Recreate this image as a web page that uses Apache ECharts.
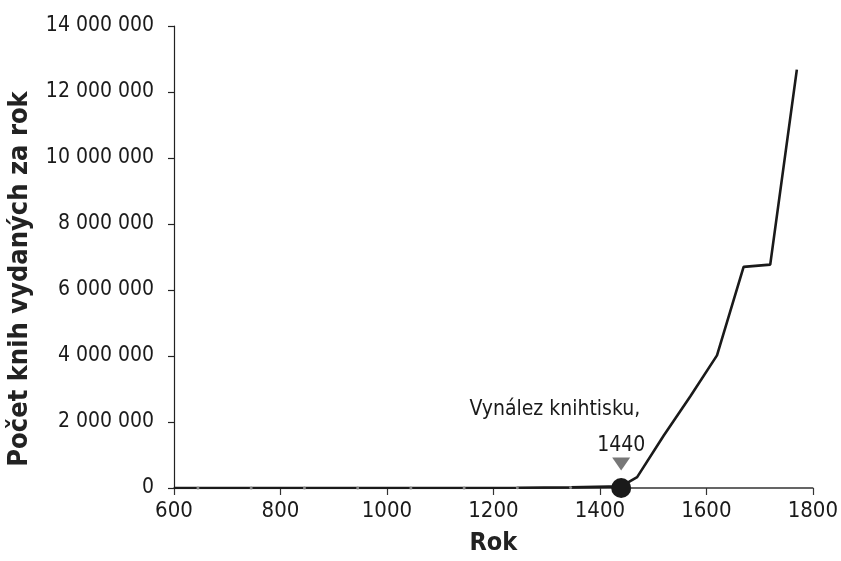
<!DOCTYPE html>
<html>
<head>
<meta charset="utf-8">
<script src="https://cdn.jsdelivr.net/npm/echarts@6/dist/echarts.min.js"></script>
<style>html,body{margin:0;padding:0;background:#fff;overflow:hidden}#c{width:100vw;height:100vh}</style>
</head>
<body>
<div id="c"></div>
<script>
// Data (books produced per year, Western Europe)
const years = [600, 645, 745, 845, 945, 1045, 1145, 1245, 1345, 1440, 1470, 1520, 1570, 1620, 1670, 1720, 1770];
const booksPerYear = [135, 135, 106, 430, 2010, 1350, 2120, 7680, 17600, 49900, 330000, 1590000, 2780000, 4020000, 6700000, 6770000, 12680000];
const dotYears = [645, 745, 845, 945, 1045, 1145, 1245, 1345];
const xTicks = [600, 800, 1000, 1200, 1400, 1600, 1800];
const yTicks = [0, 2000000, 4000000, 6000000, 8000000, 10000000, 12000000, 14000000];
const eventYear = 1440;
const eventLabel = 'Vynález knihtisku,';
const xTitle = 'Rok';
const yTitle = 'Počet knih vydaných za rok';

const FONT = "'Liberation Sans Narrow', 'DejaVu Sans Condensed', 'Arial Narrow', sans-serif";
const fmt = v => String(Math.round(v)).replace(/\B(?=(\d{3})+(?!\d))/g, ' ');

const chart = echarts.init(document.getElementById('c'), null, {renderer: 'canvas'});
chart.setOption({
  animation: false,
  backgroundColor: '#fff',
  grid: {left: 174, right: 27, top: 26, bottom: 71},
  xAxis: {
    type: 'value', min: xTicks[0], max: xTicks[xTicks.length - 1], interval: 200,
    name: xTitle, nameLocation: 'middle', nameGap: 43,
    nameTextStyle: {fontFamily: FONT, fontSize: 25, fontWeight: 'bold', color: '#222'},
    axisLine: {lineStyle: {color: '#333', width: 1.5}},
    axisTick: {length: 7, lineStyle: {color: '#333', width: 1.2}},
    axisLabel: {fontFamily: FONT, fontSize: 22, color: '#1a1a1a', margin: 12, formatter: v => String(v)},
    splitLine: {show: false}
  },
  yAxis: {
    type: 'value', min: yTicks[0], max: yTicks[yTicks.length - 1], interval: 2000000,
    axisLine: {show: true, lineStyle: {color: '#222', width: 1.2}},
    axisTick: {show: true, length: 6, lineStyle: {color: '#222', width: 1.2}},
    axisLabel: {fontFamily: FONT, fontSize: 21, color: '#1a1a1a', margin: 20, formatter: fmt},
    splitLine: {show: false}
  },
  graphic: [{
    type: 'text', x: 20, y: 279, rotation: Math.PI / 2,
    style: {text: yTitle, textAlign: 'center', textVerticalAlign: 'middle',
      font: "bold 27px " + FONT, fill: '#222'}
  }],
  series: [{
    type: 'line',
    data: years.map((y, i) => ({
      value: [y, booksPerYear[i]],
      symbol: dotYears.includes(y) ? 'circle' : 'none',
      symbolSize: 3
    })),
    lineStyle: {color: '#1a1a1a', width: 2.6},
    itemStyle: {color: '#888'},
    z: 3
  }, {
    type: 'scatter',
    data: [[eventYear, 0]],
    symbol: 'circle', symbolSize: 20,
    itemStyle: {color: '#1a1a1a', opacity: 1},
    z: 5
  }, {
    type: 'scatter',
    data: [[eventYear, 0]],
    symbol: 'triangle', symbolRotate: 180, symbolSize: [18, 13],
    symbolOffset: [0, -24],
    itemStyle: {color: '#777', opacity: 1},
    z: 4
  }, {
    type: 'scatter',
    data: [[eventYear, 0]],
    symbol: 'circle', symbolSize: 1,
    itemStyle: {color: 'rgba(0,0,0,0)', opacity: 1},
    label: {show: true, position: 'top', distance: 0, formatter: () => String(eventYear),
      offset: [0, -31], fontFamily: FONT, fontSize: 21, color: '#1a1a1a', opacity: 1},
    z: 4
  }, {
    type: 'scatter',
    data: [[eventYear, 0]],
    symbol: 'circle', symbolSize: 1,
    itemStyle: {color: 'rgba(0,0,0,0)', opacity: 1},
    label: {show: true, position: 'top', distance: 0, formatter: () => eventLabel,
      align: 'right', offset: [19, -67],
      fontFamily: FONT, fontSize: 21, color: '#1a1a1a', opacity: 1},
    z: 4
  }]
});
</script>
</body>
</html>
